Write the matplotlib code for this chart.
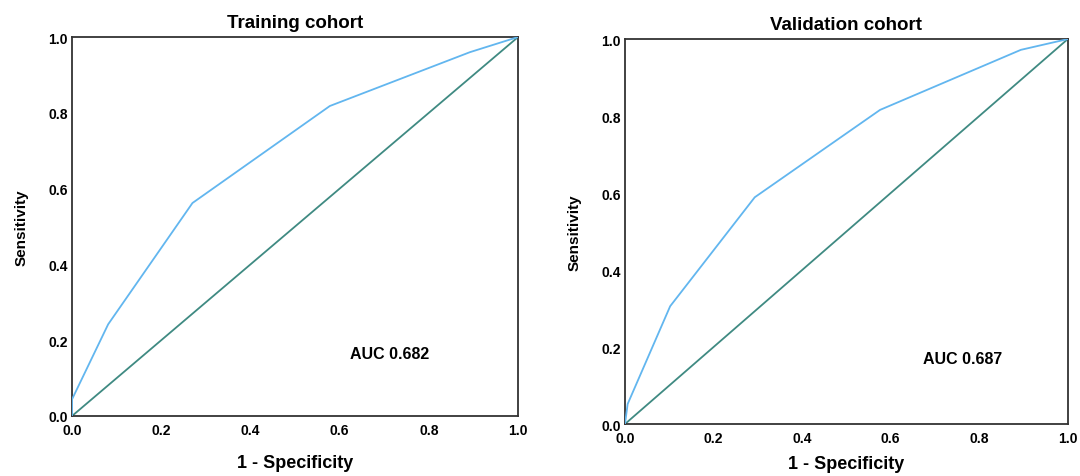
import matplotlib
matplotlib.use("Agg")
import matplotlib.pyplot as plt

plt.rcParams['font.family'] = ['Liberation Sans', 'DejaVu Sans']

# Training cohort ROC
train_fpr = [0.0, 0.0, 0.081, 0.270, 0.578, 0.892, 1.0]
train_tpr = [0.0, 0.044, 0.242, 0.562, 0.818, 0.960, 1.0]
train_auc = "AUC 0.682"

# Validation cohort ROC
val_fpr = [0.0, 0.006, 0.102, 0.293, 0.576, 0.894, 1.0]
val_tpr = [0.0, 0.052, 0.306, 0.589, 0.816, 0.972, 1.0]
val_auc = "AUC 0.687"

ticks = [0.0, 0.2, 0.4, 0.6, 0.8, 1.0]
tick_labels = ["0.0", "0.2", "0.4", "0.6", "0.8", "1.0"]

roc_color = "#62b6ef"
diag_color = "#3f8a82"

fig = plt.figure(figsize=(10.8, 4.77), dpi=100)
ax1 = fig.add_axes([0.0667, 0.1258, 0.413, 0.7945])
ax2 = fig.add_axes([0.5787, 0.109, 0.410, 0.807])

panels = [
    (ax1, train_fpr, train_tpr, train_auc, "Training cohort", (0.623, 0.164), 12),
    (ax2, val_fpr, val_tpr, val_auc, "Validation cohort", (0.673, 0.169), 7),
]

for ax, fpr, tpr, auc, title, auc_pos, xpad in panels:
    ax.plot([0, 1], [0, 1], color=diag_color, lw=1.3, zorder=2)
    ax.plot(fpr, tpr, color=roc_color, lw=1.3, zorder=3)
    ax.set_xlim(0, 1)
    ax.set_ylim(0, 1)
    ax.set_xticks(ticks)
    ax.set_yticks(ticks)
    ax.set_xticklabels(tick_labels, fontsize=10, fontweight='heavy')
    ax.set_yticklabels(tick_labels, fontsize=10, fontweight='heavy')
    ax.tick_params(axis='x', length=0, pad=5)
    ax.tick_params(axis='y', length=0, pad=3)
    for s in ax.spines.values():
        s.set_color("#333333")
        s.set_linewidth(1.3)
    ax.set_title(title, fontsize=13.5, fontweight='bold', pad=7)
    ax.set_xlabel("1 - Specificity", fontsize=13, fontweight='bold', labelpad=xpad)
    ax.set_ylabel("Sensitivity", fontsize=11,
                  family=['Liberation Sans Narrow', 'Liberation Sans', 'DejaVu Sans'],
                  fontweight='bold', labelpad=14)
    ax.text(auc_pos[0], auc_pos[1], auc, transform=ax.transAxes,
            fontsize=11.5, fontweight='bold', va='center', ha='left')

fig.savefig("out.png", dpi=100)
